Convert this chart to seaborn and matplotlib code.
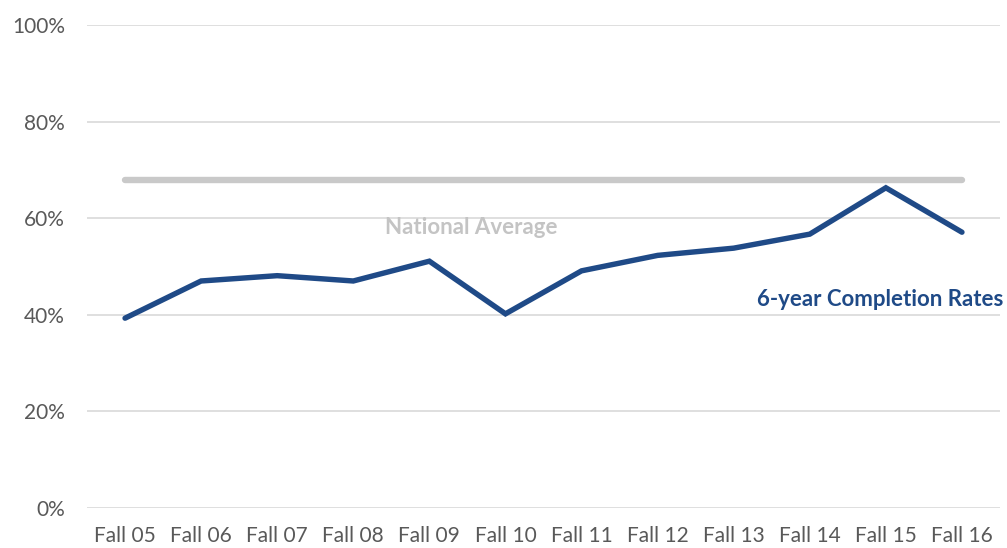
import seaborn as sns
import matplotlib.pyplot as plt
import pandas as pd

terms = ['Fall 05', 'Fall 06', 'Fall 07', 'Fall 08', 'Fall 09', 'Fall 10',
         'Fall 11', 'Fall 12', 'Fall 13', 'Fall 14', 'Fall 15', 'Fall 16']
completion = [39.3, 47.0, 48.1, 47.0, 51.1, 40.2, 49.1, 52.3, 53.8, 56.7, 66.3, 57.1]
national_avg = [68] * len(terms)
yticks = [0, 20, 40, 60, 80, 100]

df = pd.DataFrame({'term': terms, 'completion': completion, 'national': national_avg})
df['pos'] = range(len(terms))

sns.set_style('white')
plt.rcParams['font.family'] = ['Lato', 'DejaVu Sans']

fig = plt.figure(figsize=(10.07, 5.48), dpi=100)
ax = fig.add_axes([87 / 1007, 1 - 508 / 548, 913 / 1007, 483 / 548])

sns.lineplot(data=df, x='pos', y='national', color='#c9c9c9', linewidth=4.6,
             solid_capstyle='round', ax=ax)
sns.lineplot(data=df, x='pos', y='completion', color='#1f4a87', linewidth=3.9,
             solid_capstyle='round', solid_joinstyle='miter', ax=ax)

ax.set_xlim(-0.5, len(terms) - 0.5)
ax.set_ylim(0, 100)
ax.set_yticks(yticks)
ax.set_yticklabels([f'{t}%' for t in yticks])
ax.set_xticks(range(len(terms)))
ax.set_xticklabels(terms)
ax.grid(axis='y', color='#d9d9d9', linewidth=1.2)
ax.set_axisbelow(True)
for s in ax.spines.values():
    s.set_visible(False)
ax.tick_params(axis='both', length=0, labelsize=15, colors='#595959')
ax.tick_params(axis='y', pad=16)
ax.tick_params(axis='x', pad=13)
ax.set_xlabel('')
ax.set_ylabel('')

ax.text(4.55, 58.0, 'National Average', color='#c4c4c4', fontsize=16,
        fontweight='bold', ha='center', va='center')
ax.text(11.55, 43.2, '6-year Completion Rates', color='#1f4a87', fontsize=16,
        fontweight='bold', ha='right', va='center')

fig.savefig('out.png', dpi=100)
